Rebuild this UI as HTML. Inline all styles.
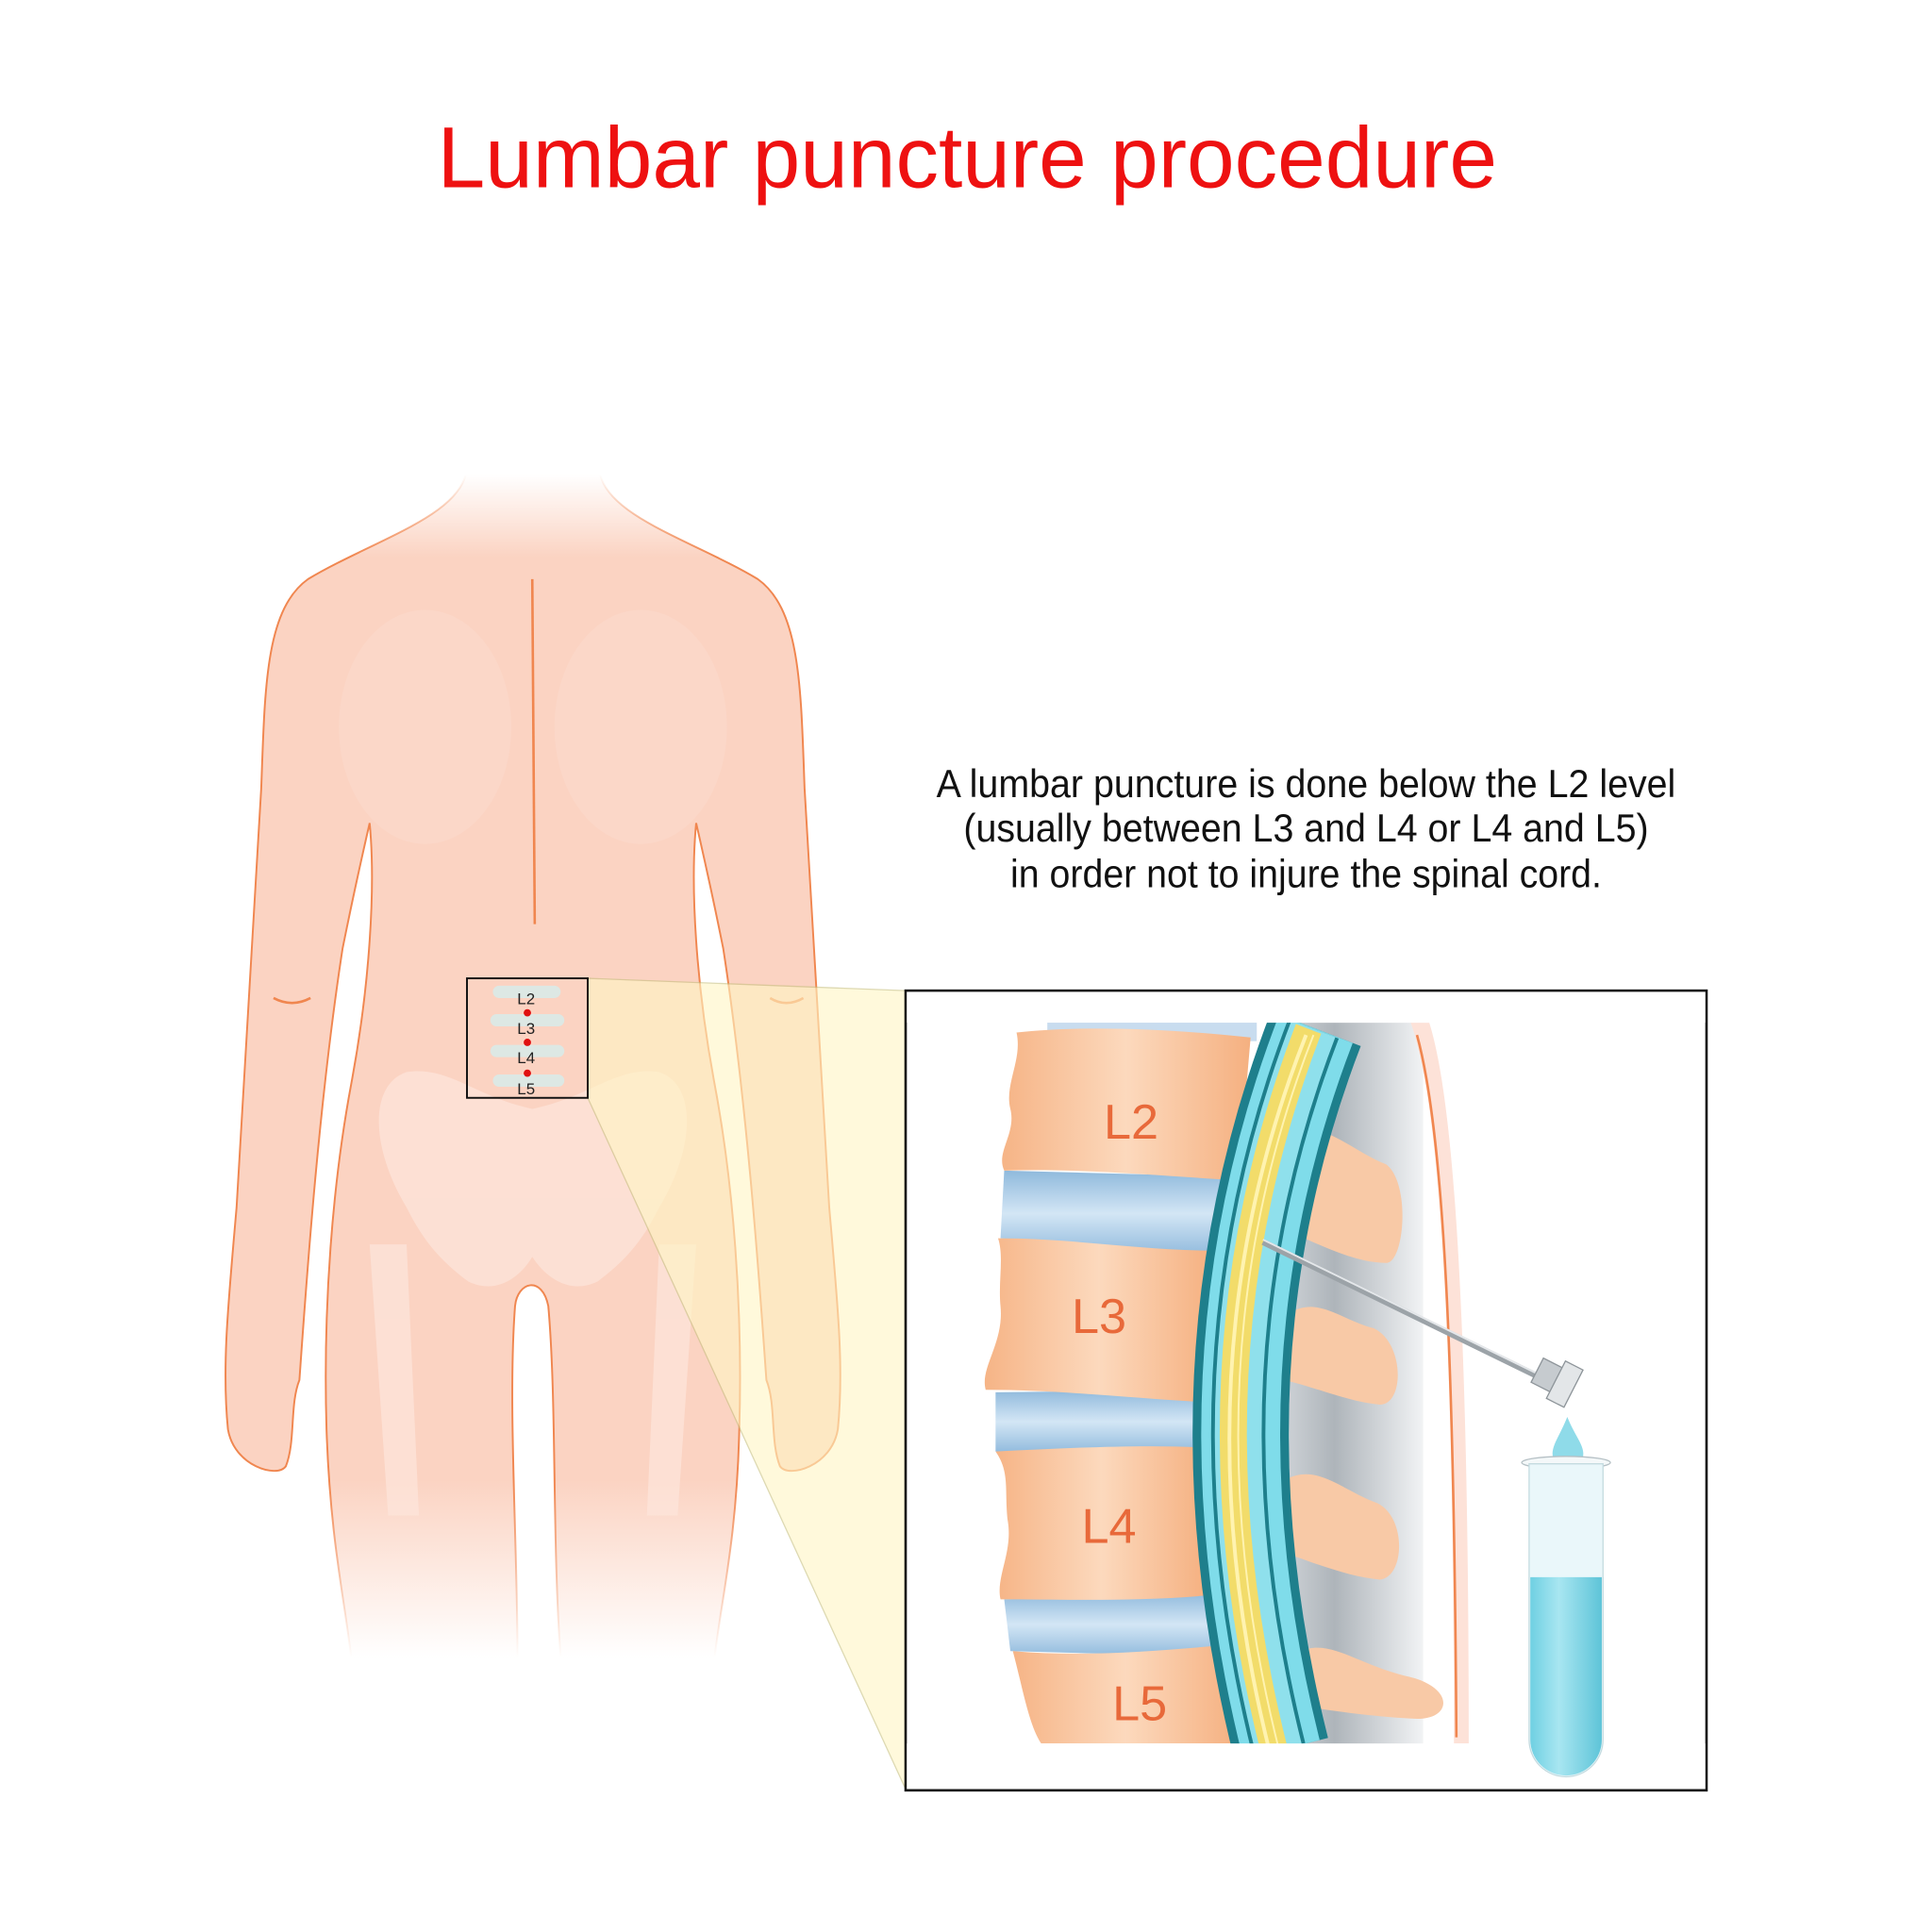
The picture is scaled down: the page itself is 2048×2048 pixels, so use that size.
<!DOCTYPE html>
<html><head><meta charset="utf-8"><style>html,body{margin:0;padding:0;background:#fff}svg{display:block}</style></head><body>
<svg width="2048" height="2048" viewBox="0 0 1568 1568" xmlns="http://www.w3.org/2000/svg">
<defs>
<linearGradient id="skin" x1="0" y1="0" x2="0" y2="1">
<stop offset="0" stop-color="#fbd3c2" stop-opacity="0"/>
<stop offset="0.07" stop-color="#fbd3c2" stop-opacity="1"/>
<stop offset="0.85" stop-color="#fbd3c2" stop-opacity="1"/>
<stop offset="1" stop-color="#fbd3c2" stop-opacity="0"/>
</linearGradient>
<linearGradient id="line" x1="0" y1="0" x2="0" y2="1">
<stop offset="0" stop-color="#f0864f" stop-opacity="0"/>
<stop offset="0.07" stop-color="#f0864f" stop-opacity="1"/>
<stop offset="0.85" stop-color="#f0864f" stop-opacity="1"/>
<stop offset="1" stop-color="#f0864f" stop-opacity="0"/>
</linearGradient>
<linearGradient id="bone" x1="0" y1="0" x2="1" y2="0">
<stop offset="0" stop-color="#f6b486"/><stop offset="0.5" stop-color="#fcd9bd"/><stop offset="1" stop-color="#f5b080"/>
</linearGradient>
<linearGradient id="disc" x1="0" y1="0" x2="0" y2="1">
<stop offset="0" stop-color="#8fb9dc"/><stop offset="0.5" stop-color="#d3e6f5"/><stop offset="1" stop-color="#8fb9dc"/>
</linearGradient>
<linearGradient id="gray" x1="0" y1="0" x2="1" y2="0">
<stop offset="0" stop-color="#c9ced3"/><stop offset="0.4" stop-color="#9aa2a9"/><stop offset="1" stop-color="#eef0f2"/>
</linearGradient>
<linearGradient id="tube" x1="0" y1="0" x2="1" y2="0">
<stop offset="0" stop-color="#6fd0e2"/><stop offset="0.4" stop-color="#a8e6f1"/><stop offset="1" stop-color="#5ec4d8"/>
</linearGradient>
</defs>

<text x="785" y="152" text-anchor="middle" font-family="Liberation Sans, sans-serif" font-size="70" fill="#ee1111" textLength="860" lengthAdjust="spacingAndGlyphs">Lumbar puncture procedure</text>

<!-- body -->
<path d="M378,385 C370,420 300,440 250,470 C215,495 215,560 212,640 C208,720 200,850 192,980 C185,1060 180,1110 185,1160 C190,1190 225,1200 232,1190 C240,1170 235,1140 243,1120 C248,1050 258,900 278,770 C288,720 295,690 300,668 C305,720 300,800 285,880 C270,960 262,1060 265,1160 C268,1250 280,1300 285,1345 L420,1345 C420,1250 412,1140 418,1060 C420,1040 440,1035 445,1060 C452,1140 448,1250 455,1345 L580,1345 C585,1300 598,1250 600,1160 C603,1060 595,960 580,880 C565,800 560,720 565,668 C570,690 577,720 587,770 C607,900 617,1050 622,1120 C630,1140 625,1170 633,1190 C640,1200 675,1190 680,1160 C685,1110 680,1060 673,980 C665,850 657,720 653,640 C650,560 650,495 615,470 C565,440 495,420 487,385 Z" fill="url(#skin)" stroke="url(#line)" stroke-width="1.5"/>
<ellipse cx="345" cy="590" rx="70" ry="95" fill="#fde0d4" opacity="0.35"/>
<ellipse cx="520" cy="590" rx="70" ry="95" fill="#fde0d4" opacity="0.35"/>
<path d="M432,470 L434,750" stroke="#f0864f" stroke-width="2"/>
<path d="M222,810 Q237,818 252,810 M625,810 Q638,818 652,810" stroke="#f0864f" stroke-width="2" fill="none"/>
<g fill="#fde6dc" opacity="0.7">
<path d="M330,870 C300,880 300,930 330,980 C345,1010 360,1025 380,1040 C400,1050 420,1040 432,1020 C445,1040 465,1050 485,1040 C505,1025 520,1010 535,980 C565,930 565,880 535,870 C500,865 480,890 432,900 C385,890 365,865 330,870 Z"/>
<path d="M300,1010 L330,1010 L340,1230 L315,1230 Z M535,1010 L565,1010 L550,1230 L525,1230 Z"/>
</g>
<polygon points="477,794 735,804 735,1452 477,891" fill="#fff6c4" opacity="0.6" stroke="#c8c080" stroke-width="1"/>
<g fill="#dde8e4"><rect x="400" y="800" width="55" height="10" rx="5"/><rect x="398" y="823" width="60" height="10" rx="5"/><rect x="398" y="848" width="60" height="10" rx="5"/><rect x="400" y="872" width="58" height="10" rx="5"/></g>
<rect x="379" y="794" width="98" height="97" fill="none" stroke="#111" stroke-width="1.5"/>
<g font-family="Liberation Sans, sans-serif" font-size="13" text-anchor="middle" fill="#222">
<text x="427" y="815">L2</text><text x="427" y="839">L3</text><text x="427" y="863">L4</text><text x="427" y="888">L5</text></g>
<g fill="#e01010"><circle cx="428" cy="822" r="3"/><circle cx="428" cy="846" r="3"/><circle cx="428" cy="871" r="3"/></g>

<g font-family="Liberation Sans, sans-serif" font-size="32" text-anchor="middle" fill="#111">
<text x="1060" y="647" textLength="600" lengthAdjust="spacingAndGlyphs">A lumbar puncture is done below the L2 level</text>
<text x="1060" y="683" textLength="556" lengthAdjust="spacingAndGlyphs">(usually between L3 and L4 or L4 and L5)</text>
<text x="1060" y="720" textLength="480" lengthAdjust="spacingAndGlyphs">in order not to injure the spinal cord.</text>
</g>

<rect x="735" y="804" width="650" height="649" fill="#fff" stroke="#111" stroke-width="2"/>
<rect x="1035" y="830" width="120" height="590" fill="url(#gray)" opacity="0.8"/>
<path d="M1145,830 C1170,900 1180,1100 1180,1415 L1192,1415 C1192,1100 1182,900 1160,830 Z" fill="#fde2d8"/>
<path d="M1150,840 C1172,920 1180,1100 1182,1410" stroke="#f0864f" stroke-width="2" fill="none"/>
<rect x="850" y="825" width="170" height="20" fill="#c8dcef"/>
<path d="M815,950 L1000,955 L990,1020 L812,1005 Z" fill="url(#disc)"/>
<path d="M808,1130 L985,1128 L980,1180 L808,1178 Z" fill="url(#disc)"/>
<path d="M815,1298 L990,1292 L995,1345 L820,1340 Z" fill="url(#disc)"/>
<path d="M825,838 C880,832 950,835 1015,842 L1005,958 C950,955 880,948 815,950 C808,935 825,920 820,900 C815,880 830,860 825,838 Z" fill="url(#bone)"/>
<path d="M810,1005 C870,1005 930,1015 985,1015 L978,1138 C920,1135 860,1128 800,1128 C795,1110 815,1090 812,1060 C810,1040 815,1020 810,1005 Z" fill="url(#bone)"/>
<path d="M808,1178 C870,1175 930,1172 980,1175 L978,1295 C920,1300 860,1298 812,1298 C808,1280 822,1260 818,1235 C815,1210 820,1195 808,1178 Z" fill="url(#bone)"/>
<path d="M822,1340 C880,1345 940,1340 995,1335 L1005,1415 L845,1415 C835,1400 830,1370 822,1340 Z" fill="url(#bone)"/>
<g font-family="Liberation Sans, sans-serif" font-size="40" text-anchor="middle" fill="#e8693a">
<text x="918" y="924">L2</text><text x="892" y="1082">L3</text><text x="900" y="1252">L4</text><text x="925" y="1396">L5</text></g>
<g fill="#f8c9a6">
<path d="M1055,915 C1080,915 1100,935 1125,945 C1145,960 1140,1025 1125,1025 C1100,1025 1070,1010 1048,1000 Z"/>
<path d="M1048,1065 C1070,1052 1090,1072 1115,1078 C1140,1090 1140,1140 1120,1140 C1095,1138 1065,1125 1042,1120 Z"/>
<path d="M1045,1200 C1070,1188 1090,1210 1118,1220 C1142,1232 1140,1280 1120,1282 C1095,1280 1065,1268 1042,1260 Z"/>
<path d="M1055,1340 C1080,1330 1100,1350 1140,1360 C1180,1368 1180,1395 1150,1395 C1110,1393 1080,1388 1058,1385 Z"/>
</g>
<g fill="none">
<path d="M1068,835 Q962,1110 1040,1420" stroke="#1e7f8c" stroke-width="78"/>
<path d="M1068,835 Q962,1110 1040,1420" stroke="#7fdcea" stroke-width="64"/>
<path d="M1066,835 Q960,1110 1038,1420" stroke="#1e7f8c" stroke-width="44"/>
<path d="M1066,835 Q960,1110 1038,1420" stroke="#8fe0ec" stroke-width="38"/>
<path d="M1062,835 Q956,1110 1034,1420" stroke="#f2dc6a" stroke-width="22"/>
<path d="M1060,840 Q953,1110 1030,1420" stroke="#fff3b0" stroke-width="3"/>
<path d="M1066,840 Q960,1110 1038,1420" stroke="#fff3b0" stroke-width="1.5"/>
</g>
<rect x="736" y="1415" width="648" height="37" fill="#fff"/>
<rect x="736" y="805" width="648" height="25" fill="#fff"/>
<line x1="1025" y1="1008" x2="1250" y2="1118" stroke="#9ca3a8" stroke-width="5"/>
<line x1="1025" y1="1006" x2="1250" y2="1116" stroke="#e4e7ea" stroke-width="1.5"/>
<g transform="rotate(27 1265 1122)"><rect x="1245" y="1110" width="22" height="22" fill="#c6cbcf" stroke="#8d9499"/><rect x="1262" y="1104" width="16" height="34" fill="#e3e6e8" stroke="#8d9499"/></g>
<path d="M1272,1150 C1278,1165 1285,1172 1285,1180 A12,12 0 0 1 1260,1180 C1260,1172 1266,1165 1272,1150 Z" fill="#8fdbe9"/>
<ellipse cx="1271" cy="1187" rx="36" ry="5" fill="#f4f8f9" stroke="#b5c0c5"/>
<path d="M1241,1188 L1241,1412 A30,30 0 0 0 1301,1412 L1301,1188 Z" fill="#eaf7fa" stroke="#c4dbe0"/>
<path d="M1242,1280 L1300,1280 L1300,1412 A29,29 0 0 1 1242,1412 Z" fill="url(#tube)"/>
</svg>
</body></html>
